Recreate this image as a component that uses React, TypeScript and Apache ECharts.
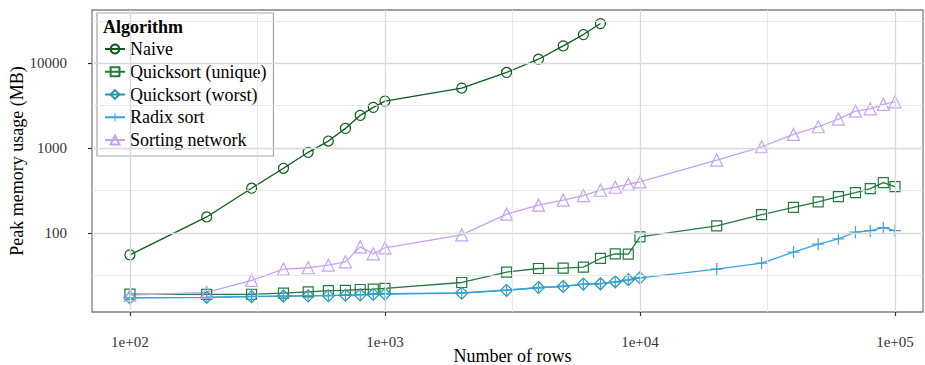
import React, { useEffect, useRef } from "react";
import * as echarts from "echarts";

// Number of rows (x values)
const rows = [
  100, 200, 300, 400, 500, 600, 700, 800, 900, 1000,
  2000, 3000, 4000, 5000, 6000, 7000, 8000, 9000, 10000,
  20000, 30000, 40000, 50000, 60000, 70000, 80000, 90000, 100000,
];

// Peak memory usage (MB) per algorithm
const naive = [55, 154, 336, 577, 890, 1208, 1704, 2427, 3013, 3573, 5082, 7780, 11140, 15990, 21750, 29310];
const quickUnique = [
  19.0, 18.8, 18.9, 19.5, 20.1, 20.8, 21.0, 21.5, 21.7, 22.2,
  26.0, 34.5, 38.0, 38.4, 39.5, 49.9, 56.6, 56.2, 89.7,
  121, 164, 200, 232, 267, 298, 332, 391, 351,
];
const quickWorst = [
  17.1, 17.4, 17.7, 18.0, 18.1, 18.2, 18.4, 18.6, 18.8, 19.0,
  19.5, 21.0, 22.7, 23.3, 24.9, 25.1, 26.5, 28.0, 29.5,
];
const radix = [
  17.2, 17.4, 17.8, 18.0, 18.2, 18.3, 18.5, 18.7, 18.9, 19.2,
  19.6, 21.2, 22.5, 23.5, 24.8, 25.3, 26.3, 27.8, 29.4,
  37.4, 44.0, 59.3, 73.6, 85.0, 102, 106, 115, 106,
];
const sortingNetwork = [
  18.5, 19.9, 27.5, 37.4, 38.8, 41.7, 45.6, 68.4, 56.6, 66.7,
  94.7, 166, 212, 243, 275, 318, 345, 374, 398,
  722, 1035, 1449, 1782, 2193, 2724, 2897, 3266, 3508,
];

const seriesNames = ["Naive", "Quicksort (unique)", "Quicksort (worst)", "Radix sort", "Sorting network"];

// Axis ticks and grid lines
const xTicks = [100, 1000, 10000, 100000];
const yTicks = [100, 1000, 10000];
const xMinor = [316.228, 3162.28, 31622.8];
const yMinor = [31.6228, 316.228, 3162.28, 31622.8];
const xRange = [71.0, 128800];
const yRange = [11.67, 42370];

const FONT = "'Liberation Serif', 'DejaVu Serif', serif";
const PLUS = "path://M5.4,0H6.6V5.4H12V6.6H6.6V12H5.4V6.6H0V5.4H5.4Z";

const colors = {
  naive: "#0f5a1c",
  unique: "#237a3e",
  worst: "#1f9aa3",
  radix: "#3aa2e2",
  network: "#c3a2f6",
};

function mkSeries(name: string, values: number[], color: string, symbol: string, size: number, filled = false) {
  return {
    type: "line",
    name,
    data: values.map((v, i) => [rows[i], v]),
    symbol,
    symbolSize: size,
    showSymbol: true,
    lineStyle: { color, width: 1.3 },
    itemStyle: filled
      ? { color, borderWidth: 0 }
      : { color: "rgba(0,0,0,0)", borderColor: color, borderWidth: 1.2 },
    emphasis: { disabled: true },
    z: 2,
  };
}

export default function App() {
  const ref = useRef<HTMLDivElement>(null);
  useEffect(() => {
    document.body.style.margin = "0";
    if (!ref.current) return;
    const chart = echarts.init(ref.current, undefined, { renderer: "svg" });
    const major = { color: "#d9d9d9", width: 1.3, type: "solid" };
    const minor = { color: "#e3e3e3", width: 0.8, type: "solid" };
    const option: any = {
      animation: false,
      grid: {
        left: 92,
        top: 10,
        right: 2,
        bottom: 53,
        containLabel: false,
        outerBoundsMode: "none",
        show: true,
        borderColor: "#7f7f7f",
        borderWidth: 1.3,
        backgroundColor: "#fff",
      },
      xAxis: {
        type: "log",
        logBase: 10,
        min: xRange[0],
        max: xRange[1],
        name: "Number of rows",
        nameLocation: "middle",
        nameGap: 35,
        nameMoveOverlap: false,
        nameTextStyle: { fontFamily: FONT, fontSize: 18, color: "#000", padding: [0, 0, 0, 10] },
        axisLine: { show: false },
        axisTick: { show: true, customValues: xTicks, length: 4, lineStyle: { color: "#333", width: 1.2 } },
        axisLabel: {
          customValues: xTicks,
          margin: 22,
          fontFamily: FONT,
          fontSize: 15,
          color: "#333",
          formatter: (v: number) => "1e+" + String(Math.round(Math.log10(v))).padStart(2, "0"),
        },
        splitLine: { show: false },
      },
      yAxis: {
        type: "log",
        logBase: 10,
        min: yRange[0],
        max: yRange[1],
        name: "Peak memory usage (MB)",
        nameLocation: "middle",
        nameGap: 66,
        nameMoveOverlap: false,
        nameTextStyle: { fontFamily: FONT, fontSize: 18, color: "#000" },
        axisLine: { show: false },
        axisTick: { show: true, customValues: yTicks, length: 4, lineStyle: { color: "#333", width: 1.2 } },
        axisLabel: {
          customValues: yTicks,
          margin: 25,
          fontFamily: FONT,
          fontSize: 15,
          color: "#333",
          formatter: (v: number) => String(Math.round(v)),
        },
        splitLine: { show: false },
      },
      legend: {
        orient: "vertical",
        left: 97,
        top: 13,
        padding: [27, 7, 7, 7],
        itemWidth: 20,
        itemHeight: 11,
        itemGap: 4.75,
        backgroundColor: "#fff",
        borderColor: "#a6a6a6",
        borderWidth: 1.2,
        borderRadius: 0,
        textStyle: { fontFamily: FONT, fontSize: 18, color: "#000", lineHeight: 18 },
        data: seriesNames,
        selectedMode: false,
      },
      graphic: [
        {
          type: "text",
          left: 103,
          top: 18,
          z: 100,
          style: { text: "Algorithm", font: `bold 18px ${FONT}`, fill: "#000" },
        },
      ],
      series: [
        {
          type: "line",
          name: "_grid",
          data: [],
          z: 1,
          silent: true,
          markLine: {
            silent: true,
            symbol: ["none", "none"],
            label: { show: false },
            emphasis: { disabled: true },
            animation: false,
            data: [
              ...xMinor.map((v) => ({ xAxis: v, lineStyle: minor })),
              ...yMinor.map((v) => ({ yAxis: v, lineStyle: minor })),
              ...xTicks.map((v) => ({ xAxis: v, lineStyle: major })),
              ...yTicks.map((v) => ({ yAxis: v, lineStyle: major })),
            ],
          },
        },
        mkSeries(seriesNames[0], naive, colors.naive, "circle", 10),
        mkSeries(seriesNames[1], quickUnique, colors.unique, "rect", 10),
        mkSeries(seriesNames[2], quickWorst, colors.worst, "diamond", 12),
        mkSeries(seriesNames[3], radix, colors.radix, PLUS, 12, true),
        mkSeries(seriesNames[4], sortingNetwork, colors.network, "triangle", 12),
      ],
    };
    chart.setOption(option);
    return () => chart.dispose();
  }, []);
  return <div ref={ref} style={{ width: 925, height: 365 }} />;
}
